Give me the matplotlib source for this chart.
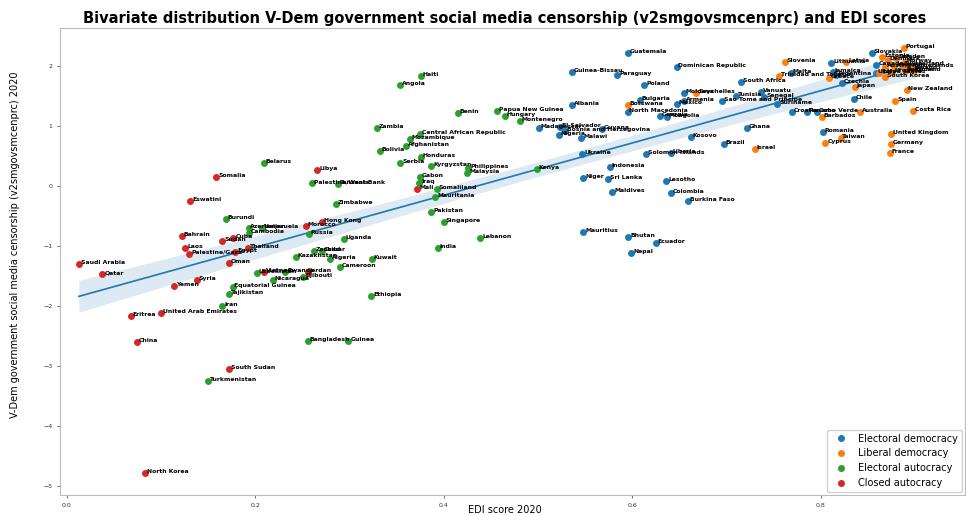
import numpy as np
import matplotlib
matplotlib.use('Agg')
import matplotlib.pyplot as plt
from matplotlib.lines import Line2D

# regime order: 0 closed autocracy, 1 electoral autocracy, 2 electoral democracy, 3 liberal democracy
closed_names = ['Saudi Arabia', 'Qatar', 'Eritrea', 'China', 'North Korea', 'United Arab Emirates',
                'Yemen', 'Bahrain', 'Laos', 'Palestine/Gaza', 'Eswatini', 'Syria', 'Somalia', 'Sudan',
                'Oman', 'South Sudan', 'Cuba', 'Egypt', 'Thailand', 'Vietnam', 'Morocco', 'Jordan',
                'Libya', 'Hong Kong', 'Mali']
closed_edi = [0.013, 0.038, 0.068, 0.075, 0.083, 0.100, 0.114, 0.122, 0.126, 0.130, 0.131, 0.138,
              0.159, 0.165, 0.172, 0.172, 0.177, 0.179, 0.192, 0.209, 0.254, 0.256, 0.266, 0.271, 0.372]
closed_cens = [-1.30, -1.47, -2.17, -2.60, -4.78, -2.12, -1.67, -0.83, -1.03, -1.13, -0.25, -1.57,
               0.15, -0.92, -1.28, -3.05, -0.87, -1.10, -1.03, -1.43, -0.67, -1.43, 0.27, -0.60, -0.05]

eauto_names = ['Iran', 'Turkmenistan', 'Burundi', 'Tajikistan', 'Equatorial Guinea', 'Azerbaijan',
               'Cambodia', 'Uzbekistan', 'Venezuela', 'Belarus', 'Nicaragua', 'Rwanda', 'Kazakhstan',
               'Djibouti', 'Russia', 'Bangladesh', 'Palestine/West Bank', 'Zanzibar', 'Chad', 'Algeria',
               'Zimbabwe', 'Tanzania', 'Cameroon', 'Uganda', 'Guinea', 'Ethiopia', 'Kuwait', 'Zambia',
               'Bolivia', 'Angola', 'Serbia', 'Afghanistan', 'Mozambique', 'Iraq', 'Gabon',
               'Central African Republic', 'Haiti', 'Honduras', 'Kyrgyzstan', 'Pakistan', 'Mauritania',
               'Somaliland', 'India', 'Singapore', 'Benin', 'Malaysia', 'Philippines', 'Lebanon',
               'Papua New Guinea', 'Hungary', 'Montenegro', 'Kenya']
eauto_edi = [0.165, 0.150, 0.169, 0.172, 0.176, 0.193, 0.193, 0.202, 0.207, 0.209, 0.219, 0.232, 0.243,
             0.251, 0.257, 0.256, 0.260, 0.262, 0.271, 0.279, 0.286, 0.288, 0.290, 0.294, 0.299, 0.323,
             0.324, 0.329, 0.332, 0.354, 0.354, 0.360, 0.364, 0.374, 0.375, 0.375, 0.376, 0.376, 0.387,
             0.387, 0.391, 0.393, 0.394, 0.400, 0.415, 0.425, 0.426, 0.439, 0.457, 0.465, 0.481, 0.499]
eauto_cens = [-2.00, -3.25, -0.55, -1.80, -1.68, -0.70, -0.78, -1.45, -0.70, 0.38, -1.57, -1.43, -1.18,
              -1.52, -0.80, -2.58, 0.05, -1.08, -1.08, -1.22, -0.30, 0.03, -1.35, -0.88, -2.58, -1.83,
              -1.22, 0.97, 0.58, 1.68, 0.38, 0.67, 0.78, 0.05, 0.15, 0.87, 1.83, 0.48, 0.33, -0.43,
              -0.18, -0.05, -1.03, -0.60, 1.22, 0.22, 0.30, -0.87, 1.25, 1.17, 1.08, 0.28]

edem_names = ['Madagascar', 'El Salvador', 'Nigeria', 'Bosnia and Herzegovina', 'Albania', 'Guinea-Bissau',
              'Malawi', 'Ukraine', 'Niger', 'Mauritius', 'Guyana', 'Sri Lanka', 'Indonesia', 'Maldives',
              'Paraguay', 'Guatemala', 'North Macedonia', 'Bhutan', 'Nepal', 'Bulgaria', 'Poland',
              'Solomon Islands', 'Ecuador', 'Georgia', 'Lesotho', 'Mongolia', 'Liberia', 'Colombia',
              'Dominican Republic', 'Mexico', 'Moldova', 'Armenia', 'Burkina Faso', 'Kosovo',
              'Sao Tome and Principe', 'Brazil', 'Tunisia', 'South Africa', 'Ghana', 'Vanuatu', 'Senegal',
              'Suriname', 'Malta', 'Croatia', 'Panama', 'Cabo Verde', 'Romania', 'Lithuania', 'Jamaica',
              'Argentina', 'Czechia', 'Chile', 'Slovakia', 'Canada', 'United States']
edem_edi = [0.501, 0.523, 0.522, 0.529, 0.536, 0.536, 0.546, 0.547, 0.548, 0.548, 0.568, 0.574, 0.576,
            0.579, 0.584, 0.595, 0.595, 0.596, 0.599, 0.608, 0.613, 0.615, 0.625, 0.629, 0.636, 0.637,
            0.641, 0.641, 0.647, 0.647, 0.655, 0.655, 0.659, 0.662, 0.695, 0.697, 0.710, 0.715, 0.722,
            0.737, 0.740, 0.754, 0.768, 0.769, 0.785, 0.796, 0.802, 0.811, 0.813, 0.816, 0.822, 0.835,
            0.854, 0.859, 0.859]
edem_cens = [0.97, 0.98, 0.85, 0.92, 1.35, 1.90, 0.80, 0.53, 0.13, -0.77, 0.95, 0.12, 0.32, -0.10, 1.85,
             2.22, 1.23, -0.85, -1.12, 1.43, 1.68, 0.53, -0.95, 1.17, 0.08, 1.15, 0.55, -0.12, 1.98, 1.37,
             1.55, 1.42, -0.25, 0.82, 1.42, 0.70, 1.50, 1.73, 0.97, 1.57, 1.48, 1.37, 1.88, 1.23, 1.23,
             1.23, 0.90, 2.05, 1.90, 1.85, 1.72, 1.45, 2.22, 2.02, 1.88]

ldem_names = ['Botswana', 'Seychelles', 'Israel', 'Trinidad and Tobago', 'Slovenia', 'Barbados', 'Cyprus',
              'Greece', 'Taiwan', 'Latvia', 'Japan', 'Australia', 'Italy', 'South Korea', 'France',
              'Germany', 'United Kingdom', 'Spain', 'Portugal', 'New Zealand', 'Costa Rica', 'Estonia',
              'Denmark', 'Sweden', 'Austria', 'Iceland', 'Uruguay', 'Norway', 'Finland', 'Belgium',
              'Switzerland', 'Netherlands', 'Ireland']
ldem_edi = [0.595, 0.668, 0.730, 0.756, 0.762, 0.801, 0.805, 0.809, 0.821, 0.827, 0.836, 0.842, 0.862,
            0.868, 0.873, 0.874, 0.875, 0.879, 0.888, 0.891, 0.898, 0.865, 0.871, 0.880, 0.868, 0.878,
            0.876, 0.889, 0.899, 0.889, 0.886, 0.894, 0.896]
ldem_cens = [1.35, 1.55, 0.62, 1.83, 2.07, 1.15, 0.72, 1.80, 0.80, 2.07, 1.65, 1.23, 1.88, 1.82, 0.55,
             0.70, 0.87, 1.42, 2.30, 1.60, 1.25, 2.15, 2.10, 2.13, 1.98, 2.00, 1.90, 2.07, 1.92, 1.92,
             2.02, 1.98, 1.95]

regimes = ['Electoral democracy', 'Liberal democracy', 'Electoral autocracy', 'Closed autocracy']
colors = {'Electoral democracy': '#1f77b4', 'Liberal democracy': '#ff7f0e',
          'Electoral autocracy': '#2ca02c', 'Closed autocracy': '#d62728'}
groups = {'Electoral democracy': (edem_names, edem_edi, edem_cens),
          'Liberal democracy': (ldem_names, ldem_edi, ldem_cens),
          'Electoral autocracy': (eauto_names, eauto_edi, eauto_cens),
          'Closed autocracy': (closed_names, closed_edi, closed_cens)}

fig = plt.figure(figsize=(9.66, 5.15), dpi=100)
ax = fig.add_axes([60 / 966, 20 / 515, 905 / 966, 467 / 515])

# regression line + 95% CI
all_x = np.array(closed_edi + eauto_edi + edem_edi + ldem_edi)
all_y = np.array(closed_cens + eauto_cens + edem_cens + ldem_cens)
b, a = np.polyfit(all_x, all_y, 1)
xs = np.linspace(all_x.min(), all_x.max(), 100)
ys = a + b * xs
n = len(all_x)
resid = all_y - (a + b * all_x)
s = np.sqrt(np.sum(resid ** 2) / (n - 2))
se = s * np.sqrt(1 / n + (xs - all_x.mean()) ** 2 / np.sum((all_x - all_x.mean()) ** 2))
ax.fill_between(xs, ys - 1.97 * se, ys + 1.97 * se, color='#1f77b4', alpha=0.15, lw=0)
ax.plot(xs, ys, color='#1f77b4', lw=1.2)

for r in ['Closed autocracy', 'Electoral autocracy', 'Electoral democracy', 'Liberal democracy']:
    names, ex, cy = groups[r]
    ax.scatter(ex, cy, s=25, color=colors[r], lw=0, zorder=3)
    for nm, xv, yv in zip(names, ex, cy):
        ax.text(xv + 0.002, yv + 0.02, nm, fontsize=4.4, fontweight='bold',
                ha='left', va='center', zorder=4)

ax.set_xlim(-0.007, 0.953)
ax.set_ylim(-5.15, 2.63)
ax.set_xticks([0.0, 0.2, 0.4, 0.6, 0.8])
ax.set_yticks([-5, -4, -3, -2, -1, 0, 1, 2])
ax.tick_params(labelsize=4.5, length=2, width=0.5, colors='#333333')
for sp in ax.spines.values():
    sp.set_color('#bbbbbb')
    sp.set_linewidth(0.8)

handles = [Line2D([], [], marker='o', ls='', color=colors[r], markersize=4) for r in regimes]
ax.legend(handles, regimes, loc='lower right', fontsize=7, borderaxespad=0.3,
          handletextpad=0.8, framealpha=0.9)

fig.text(505 / 966, 1 - 18 / 515,
         'Bivariate distribution V-Dem government social media censorship (v2smgovsmcenprc) and EDI scores',
         ha='center', va='center', fontsize=10.5, fontweight='bold')
fig.text(505 / 966, 1 - 510 / 515, 'EDI score 2020', ha='center', va='center', fontsize=7)
fig.text(15 / 966, 1 - 245 / 515, 'V-Dem government social media censorship (v2smgovsmcenprc) 2020',
         ha='center', va='center', rotation=90, fontsize=7)

fig.savefig('out.png', dpi=100)
